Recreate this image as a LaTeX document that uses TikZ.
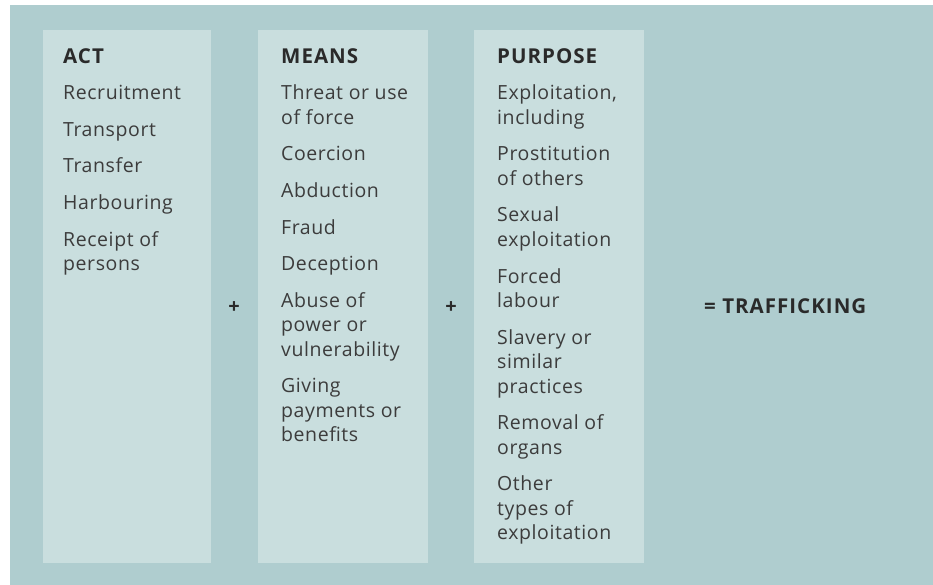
\documentclass[tikz,border=0pt]{standalone}
\usepackage{fontspec}
\setmainfont{Open Sans}
\newfontfamily\itemfam[LetterSpace=3]{Open Sans}
\newfontfamily\headfam[LetterSpace=5]{Open Sans}
\definecolor{outerbg}{HTML}{AFCDCF}
\definecolor{innerbg}{HTML}{C9DEDE}
\definecolor{txt}{HTML}{3C3C3C}
\definecolor{hdr}{HTML}{2A2A2A}
\tikzset{
  colbox/.style={fill=innerbg, draw=none, anchor=north west, minimum width=#1, minimum height=533pt, inner sep=0pt},
  itm/.style={anchor=base west, inner sep=0pt, text=txt, font=\itemfam\fontsize{19.5}{24}\selectfont},
  hd/.style={anchor=base west, inner sep=0pt, text=hdr, font=\headfam\fontsize{20.5}{24}\selectfont\bfseries},
  plus/.style={anchor=center, inner sep=0pt, text=hdr, font=\fontsize{20}{20}\selectfont\bfseries}
}
\newcommand{\lineat}[4]{\node[itm] (#1) at (#2,#3) {#4};}
\begin{document}
\begin{tikzpicture}[x=1pt,y=-1pt]
\useasboundingbox (0,0) rectangle (933,585);
\fill[white] (0,0) rectangle (933,585);
\fill[outerbg] (10,5) rectangle (933,585);
\node[colbox=168pt] (boxA) at (43,30) {};
\node[colbox=170pt] (boxM) at (258,30) {};
\node[colbox=170pt] (boxP) at (474,30) {};
% ACT
\node[hd] (hA) at (63,64) {ACT};
\lineat{a1}{63}{100}{Recruitment}
\lineat{a2}{63}{136.5}{Transport}
\lineat{a3}{63}{173}{Transfer}
\lineat{a4}{63}{209.5}{Harbouring}
\lineat{a5}{63}{246}{Receipt of}
\lineat{a6}{63}{270.5}{persons}
% MEANS
\node[hd] (hM) at (281,64) {MEANS};
\lineat{m1}{281}{100}{Threat or use}
\lineat{m2}{281}{124.5}{of force}
\lineat{m3}{281}{161}{Coercion}
\lineat{m4}{281}{197.5}{Abduction}
\lineat{m5}{281}{234}{Fraud}
\lineat{m6}{281}{270.5}{Deception}
\lineat{m7}{281}{307}{Abuse of}
\lineat{m8}{281}{331.5}{power or}
\lineat{m9}{281}{356}{vulnerability}
\lineat{m10}{281}{392.5}{Giving}
\lineat{m11}{281}{417}{payments or}
\lineat{m12}{281}{441.5}{benefits}
% PURPOSE
\node[hd] (hP) at (497,64) {PURPOSE};
\lineat{p1}{497}{100}{Exploitation,}
\lineat{p2}{497}{124.5}{including}
\lineat{p3}{497}{161}{Prostitution}
\lineat{p4}{497}{185.5}{of others}
\lineat{p5}{497}{222}{Sexual}
\lineat{p6}{497}{246.5}{exploitation}
\lineat{p7}{497}{283}{Forced}
\lineat{p8}{497}{307.5}{labour}
\lineat{p9}{497}{344}{Slavery or}
\lineat{p10}{497}{368.5}{similar}
\lineat{p11}{497}{393}{practices}
\lineat{p12}{497}{429.5}{Removal of}
\lineat{p13}{497}{454}{organs}
\lineat{p14}{497}{490.5}{Other}
\lineat{p15}{497}{515}{types of}
\lineat{p16}{497}{539.5}{exploitation}
% operators
\node[plus] (plus1) at (234,308) {+};
\node[plus] (plus2) at (451,308) {+};
\node[hd] (result) at (704,313) {= TRAFFICKING};
\end{tikzpicture}
\end{document}
